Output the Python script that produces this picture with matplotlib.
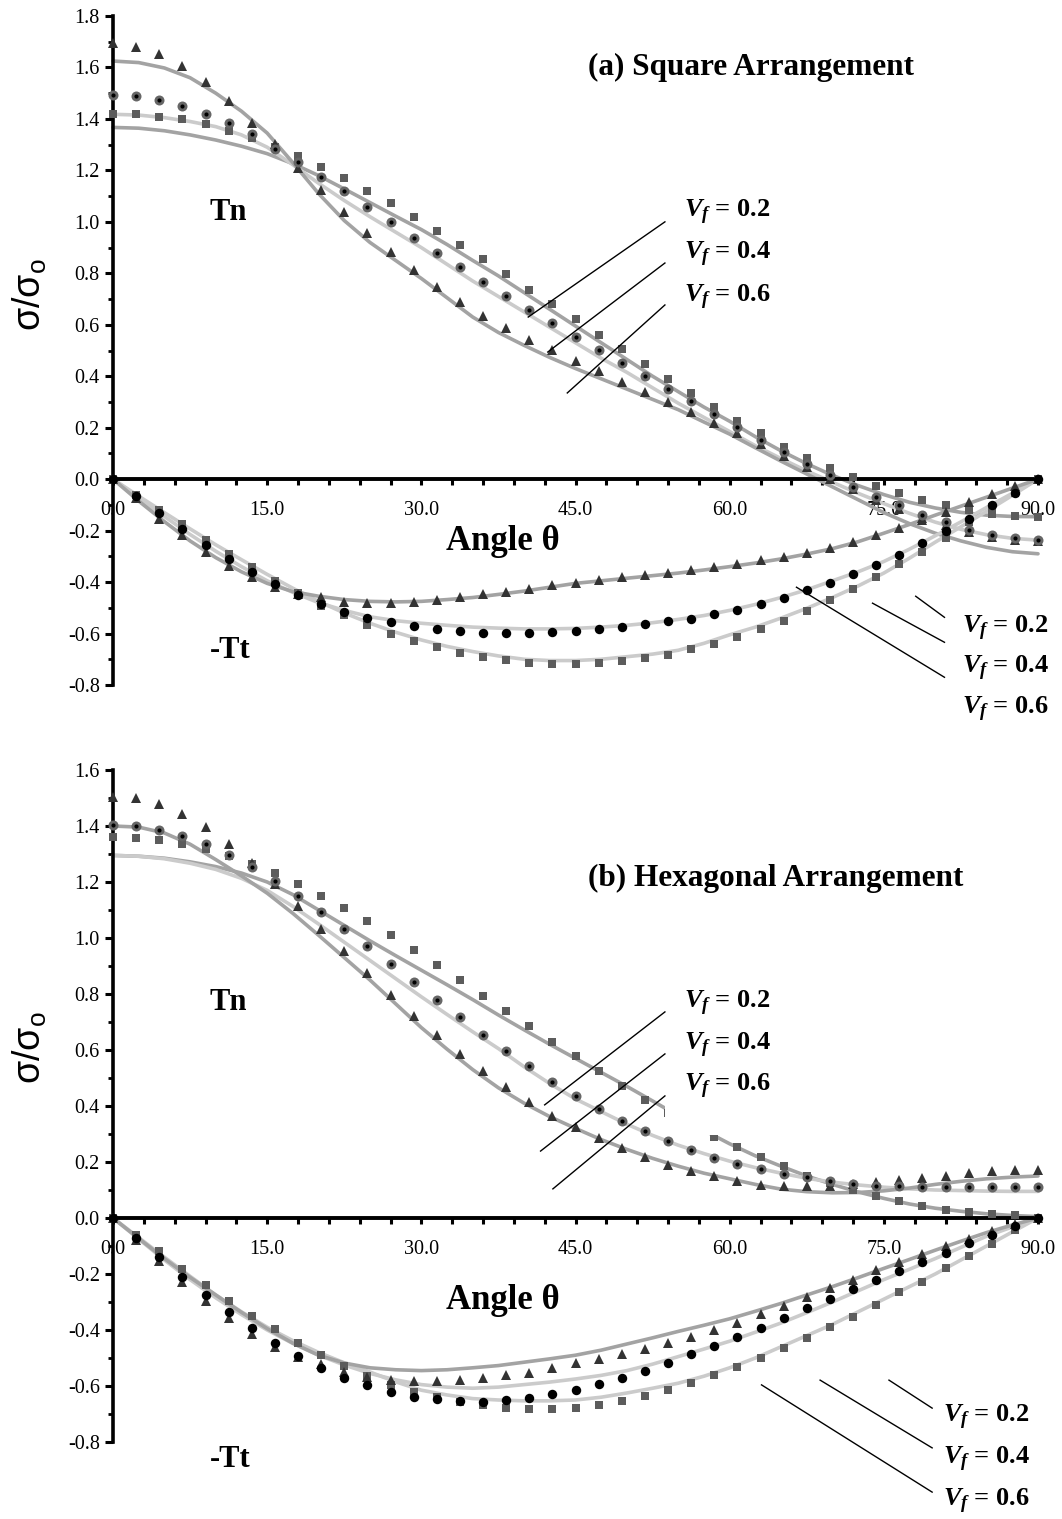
import numpy as np
import matplotlib
matplotlib.use("Agg")
import matplotlib.pyplot as plt
from matplotlib.patches import Rectangle
from matplotlib.ticker import MultipleLocator, FormatStrFormatter

#========================= data =======================

# 测点角度 (每2.25度一个点) 与模型曲线角度 (每2.5度)
ANGLES = np.arange(0, 90.01, 2.25)
LINE_ANGLES = np.arange(0, 90.01, 2.5)

# (a) Square - Tn
SQ_TN_02 = [1.421, 1.419, 1.409, 1.398, 1.379, 1.353, 1.324, 1.292, 1.256, 1.214,
            1.169, 1.121, 1.072, 1.017, 0.965, 0.910, 0.854, 0.796, 0.737, 0.679,
            0.621, 0.562, 0.504, 0.446, 0.389, 0.336, 0.281, 0.227, 0.178, 0.126,
            0.084, 0.044, 0.009, -0.025, -0.053, -0.080, -0.100, -0.120, -0.135, -0.142,
            -0.147]
SQ_TN_04 = [1.492, 1.488, 1.473, 1.450, 1.419, 1.383, 1.340, 1.285, 1.234, 1.175,
            1.120, 1.059, 1.000, 0.939, 0.880, 0.823, 0.767, 0.711, 0.657, 0.605,
            0.553, 0.501, 0.452, 0.402, 0.352, 0.303, 0.255, 0.203, 0.154, 0.106,
            0.058, 0.016, -0.030, -0.069, -0.100, -0.140, -0.166, -0.198, -0.218, -0.227,
            -0.235]
SQ_TN_06 = [1.694, 1.681, 1.652, 1.606, 1.545, 1.469, 1.385, 1.302, 1.208, 1.123,
            1.038, 0.955, 0.881, 0.812, 0.748, 0.687, 0.634, 0.586, 0.540, 0.501,
            0.459, 0.420, 0.378, 0.340, 0.301, 0.262, 0.219, 0.178, 0.135, 0.089,
            0.048, 0.000, -0.040, -0.080, -0.115, -0.150, -0.180, -0.205, -0.225, -0.235,
            -0.240]
# (a) Square - Tt
SQ_TT_02 = [0.000, -0.062, -0.121, -0.176, -0.235, -0.292, -0.343, -0.395, -0.444, -0.492,
            -0.529, -0.568, -0.600, -0.628, -0.654, -0.675, -0.693, -0.704, -0.713, -0.717,
            -0.717, -0.713, -0.708, -0.697, -0.684, -0.662, -0.639, -0.613, -0.581, -0.551,
            -0.512, -0.470, -0.425, -0.380, -0.330, -0.283, -0.227, -0.166, -0.110, -0.055,
            0.000]
SQ_TT_04 = [0.000, -0.066, -0.131, -0.192, -0.257, -0.311, -0.360, -0.406, -0.451, -0.486,
            -0.516, -0.539, -0.557, -0.571, -0.584, -0.591, -0.596, -0.597, -0.597, -0.593,
            -0.590, -0.581, -0.574, -0.564, -0.551, -0.542, -0.525, -0.507, -0.486, -0.460,
            -0.432, -0.403, -0.369, -0.334, -0.295, -0.250, -0.201, -0.153, -0.101, -0.053,
            0.000]
SQ_TT_06 = [0.000, -0.073, -0.153, -0.218, -0.283, -0.338, -0.382, -0.419, -0.447, -0.457,
            -0.477, -0.481, -0.481, -0.477, -0.468, -0.457, -0.447, -0.438, -0.425, -0.412,
            -0.403, -0.390, -0.382, -0.373, -0.364, -0.354, -0.343, -0.330, -0.315, -0.302,
            -0.286, -0.266, -0.244, -0.218, -0.188, -0.159, -0.127, -0.088, -0.056, -0.027,
            0.000]
# (a) 模型曲线
SQ_TN_LINE_02 = [1.367, 1.364, 1.354, 1.338, 1.318, 1.294, 1.265, 1.226, 1.180, 1.128,
                 1.075, 1.022, 0.970, 0.912, 0.850, 0.790, 0.725, 0.660, 0.595, 0.530,
                 0.465, 0.400, 0.340, 0.280, 0.225, 0.165, 0.110, 0.060, 0.015, -0.025,
                 -0.060, -0.090, -0.112, -0.129, -0.140, -0.145, -0.146]
SQ_TN_LINE_04 = [1.418, 1.415, 1.405, 1.390, 1.370, 1.338, 1.290, 1.222, 1.150, 1.083,
                 1.020, 0.960, 0.900, 0.835, 0.770, 0.710, 0.650, 0.590, 0.530, 0.470,
                 0.415, 0.355, 0.295, 0.240, 0.185, 0.130, 0.080, 0.032, -0.012, -0.055,
                 -0.095, -0.133, -0.167, -0.195, -0.216, -0.230, -0.237]
SQ_TN_LINE_06 = [1.625, 1.619, 1.598, 1.560, 1.500, 1.430, 1.345, 1.230, 1.110, 1.005,
                 0.920, 0.850, 0.780, 0.705, 0.630, 0.570, 0.520, 0.473, 0.430, 0.390,
                 0.350, 0.310, 0.270, 0.222, 0.175, 0.122, 0.070, 0.020, -0.030, -0.080,
                 -0.130, -0.173, -0.210, -0.240, -0.265, -0.282, -0.290]
SQ_TT_LINE_02 = [0.000, -0.066, -0.130, -0.193, -0.255, -0.313, -0.370, -0.424, -0.475, -0.520,
                 -0.560, -0.595, -0.625, -0.650, -0.670, -0.687, -0.700, -0.705, -0.705, -0.700,
                 -0.690, -0.680, -0.665, -0.638, -0.605, -0.575, -0.540, -0.502, -0.460, -0.415,
                 -0.365, -0.307, -0.245, -0.185, -0.125, -0.063, 0.000]
SQ_TT_LINE_04 = [0.000, -0.074, -0.145, -0.215, -0.280, -0.340, -0.395, -0.440, -0.480, -0.510,
                 -0.535, -0.550, -0.560, -0.568, -0.575, -0.579, -0.582, -0.582, -0.580, -0.575,
                 -0.568, -0.558, -0.545, -0.530, -0.510, -0.487, -0.460, -0.430, -0.395, -0.360,
                 -0.320, -0.272, -0.220, -0.166, -0.110, -0.055, 0.000]
SQ_TT_LINE_06 = [0.000, -0.085, -0.165, -0.240, -0.305, -0.360, -0.405, -0.437, -0.455, -0.468,
                 -0.475, -0.477, -0.475, -0.468, -0.460, -0.448, -0.435, -0.420, -0.405, -0.395,
                 -0.385, -0.375, -0.365, -0.353, -0.340, -0.326, -0.310, -0.291, -0.270, -0.243,
                 -0.210, -0.176, -0.140, -0.105, -0.070, -0.035, 0.000]

# (b) Hexagonal - Tn
HX_TN_02 = [1.361, 1.358, 1.351, 1.337, 1.318, 1.294, 1.265, 1.232, 1.194, 1.151,
            1.107, 1.060, 1.010, 0.956, 0.905, 0.849, 0.794, 0.740, 0.685, 0.627,
            0.577, 0.524, 0.473, 0.423, 0.375, 0.330, 0.290, 0.254, 0.218, 0.185,
            0.151, 0.125, 0.099, 0.080, 0.060, 0.044, 0.030, 0.020, 0.014, 0.010,
            0.000]
HX_TN_04 = [1.405, 1.401, 1.387, 1.365, 1.336, 1.298, 1.254, 1.205, 1.151, 1.093,
            1.032, 0.970, 0.907, 0.843, 0.780, 0.717, 0.655, 0.595, 0.542, 0.486,
            0.435, 0.389, 0.348, 0.310, 0.274, 0.244, 0.214, 0.193, 0.175, 0.157,
            0.145, 0.131, 0.123, 0.115, 0.113, 0.111, 0.111, 0.110, 0.110, 0.110,
            0.110]
HX_TN_06 = [1.504, 1.500, 1.480, 1.444, 1.395, 1.336, 1.268, 1.193, 1.113, 1.033,
            0.952, 0.875, 0.798, 0.723, 0.654, 0.587, 0.526, 0.467, 0.416, 0.365,
            0.324, 0.286, 0.250, 0.218, 0.190, 0.167, 0.149, 0.131, 0.119, 0.113,
            0.113, 0.115, 0.123, 0.127, 0.135, 0.143, 0.151, 0.161, 0.167, 0.170,
            0.173]
# (b) Hexagonal - Tt
HX_TT_02 = [0.000, -0.062, -0.119, -0.181, -0.239, -0.295, -0.349, -0.398, -0.445, -0.490,
            -0.528, -0.565, -0.595, -0.621, -0.641, -0.657, -0.669, -0.677, -0.683, -0.681,
            -0.677, -0.669, -0.654, -0.636, -0.613, -0.589, -0.561, -0.531, -0.499, -0.463,
            -0.430, -0.390, -0.352, -0.310, -0.266, -0.227, -0.179, -0.137, -0.093, -0.044,
            0.000]
HX_TT_04 = [0.000, -0.072, -0.140, -0.209, -0.275, -0.337, -0.394, -0.445, -0.492, -0.534,
            -0.570, -0.597, -0.621, -0.639, -0.648, -0.654, -0.657, -0.651, -0.642, -0.629,
            -0.613, -0.593, -0.571, -0.546, -0.517, -0.487, -0.456, -0.424, -0.392, -0.356,
            -0.322, -0.289, -0.254, -0.221, -0.191, -0.158, -0.125, -0.090, -0.060, -0.027,
            0.000]
HX_TT_06 = [0.000, -0.078, -0.155, -0.229, -0.295, -0.358, -0.414, -0.460, -0.496, -0.522,
            -0.549, -0.567, -0.579, -0.583, -0.583, -0.579, -0.571, -0.561, -0.552, -0.537,
            -0.519, -0.505, -0.486, -0.469, -0.445, -0.424, -0.400, -0.374, -0.344, -0.314,
            -0.283, -0.251, -0.221, -0.187, -0.158, -0.128, -0.101, -0.075, -0.048, -0.021,
            0.000]
# (b) 模型曲线
HX_TN_LINE_02 = [1.295, 1.292, 1.285, 1.272, 1.255, 1.232, 1.200, 1.155, 1.100, 1.045,
                 0.990, 0.937, 0.885, 0.833, 0.780, 0.725, 0.672, 0.620, 0.570, 0.520,
                 0.470, 0.418, 0.365, 0.313, 0.265, 0.222, 0.185, 0.150, 0.120, 0.093,
                 0.070, 0.050, 0.035, 0.024, 0.015, 0.009, 0.005]
HX_TN_LINE_04 = [1.295, 1.292, 1.283, 1.267, 1.245, 1.213, 1.170, 1.113, 1.050, 0.985,
                 0.920, 0.855, 0.790, 0.727, 0.665, 0.605, 0.540, 0.480, 0.425, 0.380,
                 0.335, 0.295, 0.260, 0.230, 0.203, 0.180, 0.160, 0.142, 0.128, 0.118,
                 0.110, 0.104, 0.100, 0.098, 0.096, 0.095, 0.095]
HX_TN_LINE_06 = [1.400, 1.396, 1.375, 1.335, 1.280, 1.222, 1.160, 1.088, 1.010, 0.930,
                 0.850, 0.765, 0.680, 0.603, 0.530, 0.465, 0.410, 0.362, 0.320, 0.280,
                 0.245, 0.213, 0.185, 0.160, 0.140, 0.120, 0.103, 0.094, 0.090, 0.091,
                 0.097, 0.107, 0.120, 0.131, 0.140, 0.146, 0.150]
HX_TT_LINE_02 = [0.000, -0.070, -0.140, -0.208, -0.275, -0.335, -0.390, -0.438, -0.480, -0.517,
                 -0.550, -0.585, -0.615, -0.632, -0.645, -0.650, -0.653, -0.653, -0.650, -0.640,
                 -0.625, -0.608, -0.590, -0.565, -0.535, -0.500, -0.460, -0.420, -0.380, -0.335,
                 -0.290, -0.245, -0.200, -0.150, -0.100, -0.050, 0.000]
HX_TT_LINE_04 = [0.000, -0.075, -0.150, -0.220, -0.285, -0.345, -0.400, -0.448, -0.490, -0.525,
                 -0.555, -0.578, -0.595, -0.604, -0.608, -0.604, -0.595, -0.586, -0.575, -0.562,
                 -0.545, -0.522, -0.495, -0.468, -0.440, -0.408, -0.375, -0.338, -0.300, -0.260,
                 -0.220, -0.183, -0.145, -0.105, -0.065, -0.032, 0.000]
HX_TT_LINE_06 = [0.000, -0.073, -0.145, -0.212, -0.275, -0.337, -0.395, -0.447, -0.490, -0.518,
                 -0.535, -0.542, -0.545, -0.542, -0.535, -0.527, -0.515, -0.503, -0.490, -0.472,
                 -0.450, -0.428, -0.405, -0.383, -0.360, -0.333, -0.305, -0.275, -0.245, -0.213,
                 -0.180, -0.148, -0.115, -0.083, -0.052, -0.025, 0.000]

VF_LABELS = [r"$V_f$ = 0.2", r"$V_f$ = 0.4", r"$V_f$ = 0.6"]

#========================= style =======================

SQUARE_COLOR = "#5c5c5c"
TRIANGLE_COLOR = "#333333"
CIRCLE_RING_COLOR = "#666666"
CIRCLE_DOT_COLOR = "black"
LINE_MID = "#a3a3a3"
LINE_LIGHT = "#cbcbcb"
LINE_W = 2.6

plt.rcParams["font.family"] = ["Liberation Serif", "DejaVu Serif"]
plt.rcParams["mathtext.fontset"] = "custom"
plt.rcParams["mathtext.it"] = "Liberation Serif:italic:bold"
plt.rcParams["mathtext.rm"] = "Liberation Serif:bold"
plt.rcParams["mathtext.sf"] = "Liberation Sans"
plt.rcParams["axes.unicode_minus"] = False

FIG_W, FIG_H = 1062, 1519


def drawPanel(ax, ylim, tn, tt, tnLines, ttLines, tnLineColors, ttLineColors):
    # 模型曲线
    for vals, c in zip(list(tnLines) + list(ttLines), list(tnLineColors) + list(ttLineColors)):
        ax.plot(LINE_ANGLES, vals, color=c, lw=LINE_W, zorder=2, clip_on=False,
                solid_capstyle="round", solid_joinstyle="round")

    # 测点
    for series in (tn, tt):
        s02, s04, s06 = series
        ax.plot(ANGLES, s02, ls="none", marker="s", ms=6.3, color=SQUARE_COLOR,
                mew=0, zorder=3, clip_on=False)
        ax.plot(ANGLES, s06, ls="none", marker="^", ms=7.5, color=TRIANGLE_COLOR,
                mew=0, zorder=3, clip_on=False)
    ax.plot(ANGLES, tn[1], ls="none", marker="o", ms=7.2, color=CIRCLE_RING_COLOR,
            mew=0, zorder=3, clip_on=False)
    ax.plot(ANGLES, tn[1], ls="none", marker="o", ms=3.0, color=CIRCLE_DOT_COLOR,
            mew=0, zorder=3, clip_on=False)
    ax.plot(ANGLES, tt[1], ls="none", marker="o", ms=6.8, color=CIRCLE_DOT_COLOR,
            mew=0, zorder=3, clip_on=False)

    ax.set_xlim(0, 90)
    ax.set_ylim(*ylim)
    ax.spines["top"].set_visible(False)
    ax.spines["right"].set_visible(False)
    ax.spines["bottom"].set_position(("data", 0))
    ax.spines["bottom"].set_linewidth(2.8)
    ax.spines["left"].set_linewidth(2.6)
    ax.spines["bottom"].set_zorder(2.5)

    ax.xaxis.set_major_locator(MultipleLocator(15))
    ax.xaxis.set_minor_locator(MultipleLocator(3))
    ax.xaxis.set_major_formatter(FormatStrFormatter("%.1f"))
    ax.yaxis.set_major_locator(MultipleLocator(0.2))
    ax.yaxis.set_minor_locator(MultipleLocator(0.1))
    ax.yaxis.set_major_formatter(FormatStrFormatter("%.1f"))
    ax.tick_params(axis="x", which="both", direction="out", length=4.5, width=2.2,
                   pad=11, labelsize=14.5)
    ax.tick_params(axis="y", which="major", direction="out", length=5.5, width=2.2,
                   pad=4, labelsize=14.5)
    ax.tick_params(axis="y", which="minor", direction="out", length=3.5, width=2.0)


def vfLabels(ax, x, ys, lines, fontsize=19):
    for lbl, y in zip(VF_LABELS, ys):
        ax.text(x, y, lbl, fontsize=fontsize, fontweight="bold", va="center",
                ha="left", zorder=6, clip_on=False)
    for (x1, y1, x2, y2) in lines:
        ax.plot([x1, x2], [y1, y2], color="black", lw=1.0, zorder=6, clip_on=False)


def axesRect(yTopPx, yBotPx, xLeftPx=113, xRightPx=1038):
    return [xLeftPx / FIG_W, 1 - yBotPx / FIG_H,
            (xRightPx - xLeftPx) / FIG_W, (yBotPx - yTopPx) / FIG_H]


fig = plt.figure(figsize=(FIG_W / 100, FIG_H / 100), dpi=100)

#========================= (a) square =======================
ax1 = fig.add_axes(axesRect(16, 685))
drawPanel(ax1, (-0.8, 1.8),
          (SQ_TN_02, SQ_TN_04, SQ_TN_06), (SQ_TT_02, SQ_TT_04, SQ_TT_06),
          (SQ_TN_LINE_02, SQ_TN_LINE_04, SQ_TN_LINE_06),
          (SQ_TT_LINE_02, SQ_TT_LINE_04, SQ_TT_LINE_06),
          (LINE_MID, LINE_LIGHT, LINE_MID), (LINE_LIGHT, LINE_LIGHT, LINE_MID))
ax1.text(46.2, 1.60, "(a) Square Arrangement", fontsize=22.5, fontweight="bold",
         va="center", ha="left")
ax1.text(11.2, 1.035, "Tn", fontsize=22, fontweight="bold", va="center", ha="center")
ax1.text(11.4, -0.665, "-Tt", fontsize=22, fontweight="bold", va="center", ha="center")
ax1.text(37.9, -0.241, "Angle θ", fontsize=25, fontweight="bold", va="center", ha="center")
vfLabels(ax1, 55.6, [1.035, 0.872, 0.708],
         [(53.7, 1.0, 40.4, 0.63), (53.7, 0.84, 42.3, 0.494), (53.7, 0.677, 44.2, 0.335)])
vfLabels(ax1, 82.6, [-0.58, -0.735, -0.895],
         [(78.1, -0.455, 80.9, -0.537), (73.9, -0.482, 80.9, -0.634),
          (66.5, -0.420, 80.9, -0.77)])

#========================= (b) hexagonal =======================
ax2 = fig.add_axes(axesRect(770, 1442))
drawPanel(ax2, (-0.8, 1.6),
          (HX_TN_02, HX_TN_04, HX_TN_06), (HX_TT_02, HX_TT_04, HX_TT_06),
          (HX_TN_LINE_02, HX_TN_LINE_04, HX_TN_LINE_06),
          (HX_TT_LINE_02, HX_TT_LINE_04, HX_TT_LINE_06),
          (LINE_MID, LINE_LIGHT, LINE_MID), (LINE_LIGHT, LINE_LIGHT, LINE_MID))
# 标签背景白框遮住部分数据
ax2.add_patch(Rectangle((53.7, 0.296), 11.2, 0.515, facecolor="white",
                        edgecolor="none", zorder=4))
ax2.text(46.2, 1.214, "(b) Hexagonal Arrangement", fontsize=22.5, fontweight="bold",
         va="center", ha="left")
ax2.text(11.2, 0.768, "Tn", fontsize=22, fontweight="bold", va="center", ha="center")
ax2.text(11.4, -0.864, "-Tt", fontsize=22, fontweight="bold", va="center", ha="center")
ax2.text(37.9, -0.293, "Angle θ", fontsize=25, fontweight="bold", va="center", ha="center")
vfLabels(ax2, 55.6, [0.768, 0.618, 0.471],
         [(53.7, 0.736, 42.0, 0.404), (53.7, 0.586, 41.6, 0.239), (53.7, 0.436, 42.8, 0.104)])
vfLabels(ax2, 80.8, [-0.714, -0.864, -1.014],
         [(75.5, -0.579, 79.7, -0.679), (68.8, -0.579, 79.7, -0.821),
          (63.1, -0.596, 79.7, -0.979)])

# y轴标题
for yPx in (295, 1048):
    fig.text(30 / FIG_W, 1 - yPx / FIG_H, r"$\mathsf{\sigma/\sigma_o}$", rotation=90,
             fontsize=27, ha="center", va="center")

fig.savefig("out.png", dpi=100)
